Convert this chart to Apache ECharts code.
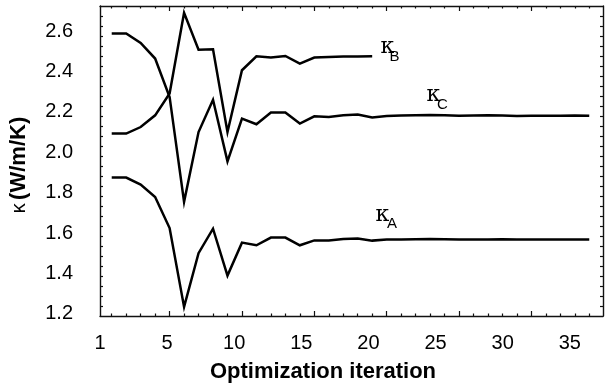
<!DOCTYPE html>
<html>
<head>
<meta charset="utf-8">
<script src="https://cdn.jsdelivr.net/npm/echarts@6/dist/echarts.min.js"></script>
<style>
  html, body { margin: 0; padding: 0; background: #fff; }
  #chart { width: 605px; height: 392px; }
</style>
</head>
<body>
<div id="chart"></div>
<script>
// Optimization iterations and thermal conductivity of the three sub-regions
const iterations = [1, 2, 3, 4, 5, 6, 7, 8, 9, 10, 11, 12, 13, 14, 15, 16, 17,
  18, 19, 20, 21, 22, 23, 24, 25, 26, 27, 28, 29, 30, 31, 32, 33, 34];

const kappaA = [1.875, 1.875, 1.840, 1.779, 1.625, 1.235, 1.501, 1.622, 1.390, 1.553,
  1.540, 1.578, 1.578, 1.540, 1.564, 1.564, 1.571, 1.573, 1.563, 1.568,
  1.568, 1.570, 1.571, 1.570, 1.569, 1.569, 1.569, 1.570, 1.568, 1.568,
  1.569, 1.569, 1.569, 1.569];

const kappaB = [2.093, 2.093, 2.125, 2.183, 2.291, 2.690, 2.508, 2.510, 2.100, 2.406,
  2.475, 2.469, 2.477, 2.439, 2.469, 2.472, 2.474, 2.474, 2.475];

const kappaC = [2.588, 2.588, 2.541, 2.464, 2.274, 1.755, 2.100, 2.260, 1.955, 2.167,
  2.139, 2.197, 2.197, 2.142, 2.178, 2.175, 2.183, 2.187, 2.172, 2.180,
  2.182, 2.183, 2.185, 2.184, 2.181, 2.182, 2.183, 2.182, 2.180, 2.181,
  2.181, 2.181, 2.182, 2.181];

const xTickLabels = ['1', '5', '10', '15', '20', '25', '30', '35'];
const yTickLabels = [1.2, 1.4, 1.6, 1.8, 2.0, 2.2, 2.4, 2.6];

// ---- axis extents and tick positions ----
const X_MIN = 0.19, X_MAX = 34.95;
const Y_MIN = 1.19, Y_MAX = 2.724;
const LABEL_MAX = 7.494;   // evenly spaced tick-label track along the bottom

const xMinor = [];
for (let v = 1; v <= 34; v++) if (v % 5 !== 0) xMinor.push(v);
const xMajor = [5, 10, 15, 20, 25, 30];
const yTicks = [];
for (let k = 1; k <= 30; k++) yTicks.push(Y_MAX - (Y_MAX - Y_MIN) * k / 31);

const INK = '#000';
const FRAME = { color: '#111', width: 1.4 };

function frameAxis(position, ticks, len, withLine) {
  return {
    type: 'value', position: position, min: X_MIN, max: X_MAX,
    axisLine: { show: withLine, onZero: false, lineStyle: FRAME },
    axisTick: { show: true, inside: true, length: len, customValues: ticks,
      lineStyle: { color: '#111', width: 1.2 } },
    axisLabel: { show: false },
    splitLine: { show: false }
  };
}

const chart = echarts.init(document.getElementById('chart'), null, { renderer: 'canvas' });

function kLabel(x, y, dxk, dyk, dxs, dys, sub) {
  return [
    { coord: [x, y], symbol: 'circle', symbolSize: 1, itemStyle: { color: 'rgba(0,0,0,0)' },
      label: { show: true, position: 'inside', formatter: 'κ', offset: [dxk, dyk],
        align: 'center', verticalAlign: 'middle',
        fontFamily: 'DejaVu Serif', fontSize: 22, color: INK } },
    { coord: [x, y], symbol: 'circle', symbolSize: 1, itemStyle: { color: 'rgba(0,0,0,0)' },
      label: { show: true, position: 'inside', formatter: sub, offset: [dxs, dys],
        align: 'center', verticalAlign: 'middle',
        fontFamily: 'Liberation Sans', fontSize: 15, color: INK } }
  ];
}

function lineSeries(name, values, marks) {
  return {
    name: name, type: 'line',
    xAxisIndex: 0, yAxisIndex: 0,
    data: values.map((v, i) => [iterations[i], v]),
    symbol: 'none', showSymbol: false,
    lineStyle: { color: INK, width: 2.5, join: 'miter' },
    itemStyle: { color: INK },
    markPoint: { silent: true, animation: false, data: marks }
  };
}

const iA = 18, iB = kappaB.length - 1, iC = 22;

chart.setOption({
  animation: false,
  backgroundColor: '#fff',
  grid: { left: 100, right: 2, top: 6, bottom: 76, show: false },
  xAxis: [
    frameAxis('bottom', xMinor, 2.5, true),
    frameAxis('bottom', xMajor, 5, false),
    frameAxis('top', xMinor, 2.5, true),
    frameAxis('top', xMajor, 5, false),
    {
      type: 'value', position: 'bottom', min: 0, max: LABEL_MAX,
      axisLine: { show: false }, axisTick: { show: false }, splitLine: { show: false },
      axisLabel: {
        show: true, margin: 17, fontSize: 20, color: INK, fontFamily: 'Liberation Sans',
        customValues: xTickLabels.map((_, i) => i),
        formatter: v => xTickLabels[Math.round(v)]
      },
      name: 'Optimization iteration', nameLocation: 'middle', nameGap: 45,
      nameTextStyle: { fontSize: 22, fontWeight: 'bold', color: INK,
        fontFamily: 'Liberation Sans', padding: [0, 57, 0, 0] }
    }
  ],
  yAxis: [
    {
      type: 'value', position: 'left', min: Y_MIN, max: Y_MAX,
      axisLine: { show: true, onZero: false, lineStyle: FRAME },
      axisTick: { show: true, inside: true, length: 3, customValues: yTicks,
        lineStyle: { color: '#111', width: 1.2 } },
      axisLabel: { show: true, margin: 27, fontSize: 20, color: INK,
        fontFamily: 'Liberation Sans', customValues: yTickLabels,
        formatter: v => v.toFixed(1) },
      splitLine: { show: false },
      name: '{k|κ} {b|(W/m/K)}', nameLocation: 'middle', nameGap: 70, nameRotate: 90,
      nameTextStyle: {
        color: INK, padding: [0, 8, 0, 0],
        rich: {
          k: { fontSize: 20, fontFamily: 'Liberation Sans', color: INK },
          b: { fontSize: 22, fontWeight: 'bold', fontFamily: 'Liberation Sans', color: INK }
        }
      }
    },
    {
      type: 'value', position: 'right', min: Y_MIN, max: Y_MAX,
      axisLine: { show: true, onZero: false, lineStyle: FRAME },
      axisTick: { show: true, inside: true, length: 3, customValues: yTicks,
        lineStyle: { color: '#111', width: 1.2 } },
      axisLabel: { show: false },
      splitLine: { show: false }
    }
  ],
  series: [
    lineSeries('κA', kappaA, kLabel(iterations[iA], kappaA[iA], 10.2, -25.2, 19.8, -16.3, 'A')),
    lineSeries('κB', kappaB, kLabel(iterations[iB], kappaB[iB], 15.3, -8.6, 22.3, 0.5, 'B')),
    lineSeries('κC', kappaC, kLabel(iterations[iC], kappaC[iC], 3.3, -20, 12.4, -9.8, 'C'))
  ]
});
</script>
</body>
</html>
